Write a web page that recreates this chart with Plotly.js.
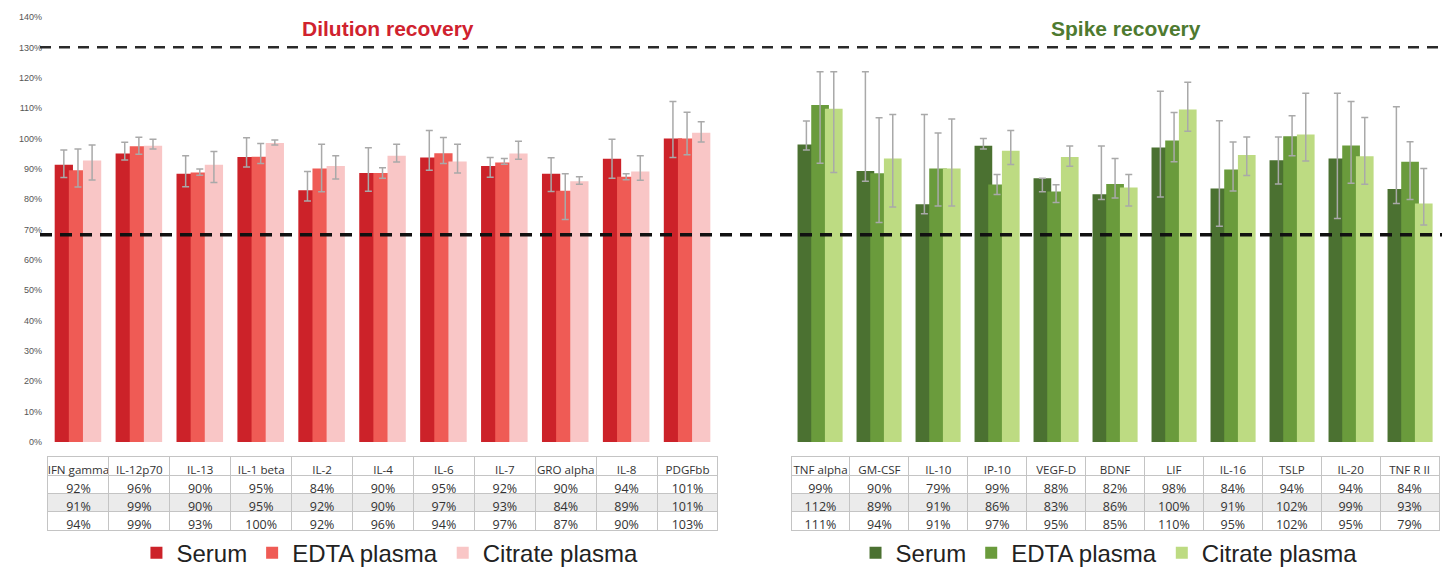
<!DOCTYPE html>
<html>
<head>
<meta charset="utf-8">
<script src="https://cdn.plot.ly/plotly-3.0.1.min.js"></script>
<style>
  html, body { margin: 0; padding: 0; background: #ffffff; }
  #chart { width: 1442px; height: 568px; }
</style>
</head>
<body>
<div id="chart"></div>
<script>
// ---------------- DATA ----------------
var seriesNames = ['Serum', 'EDTA plasma', 'Citrate plasma'];

// Dilution recovery
var dilCategories = ['IFN gamma', 'IL-12p70', 'IL-13', 'IL-1 beta', 'IL-2', 'IL-4', 'IL-6', 'IL-7', 'GRO alpha', 'IL-8', 'PDGFbb'];
var dilSerum   = [91.3, 95.0, 88.4, 93.9, 82.9, 88.6, 93.7, 90.9, 88.4, 93.3, 100.0];
var dilEdta    = [89.5, 97.4, 88.8, 94.0, 90.1, 88.6, 95.1, 92.1, 82.8, 87.4, 100.0];
var dilCitrate = [92.7, 97.6, 91.3, 98.5, 90.9, 94.3, 92.4, 95.0, 85.9, 89.1, 101.9];
var dilSerumHi   = [96.2, 98.7, 94.3, 100.2, 89.1, 96.9, 102.6, 93.7, 93.6, 99.7, 112.2];
var dilSerumLo   = [87.1, 92.9, 84.1, 90.6, 79.4, 82.6, 89.5, 87.2, 82.5, 86.9, 93.7];
var dilEdtaHi    = [96.5, 100.4, 89.9, 98.3, 98.1, 90.3, 100.3, 93.4, 88.4, 88.4, 108.6];
var dilEdtaLo    = [84.0, 94.8, 87.9, 91.7, 82.4, 86.9, 91.7, 91.5, 73.3, 86.4, 94.6];
var dilCitrateHi = [97.8, 99.7, 95.7, 99.5, 94.3, 98.1, 98.1, 99.1, 87.4, 94.3, 105.5];
var dilCitrateLo = [86.3, 96.5, 85.5, 97.8, 86.6, 92.2, 88.6, 93.1, 84.9, 86.2, 98.8];
var dilTabSerum   = [92, 96, 90, 95, 84, 90, 95, 92, 90, 94, 101];
var dilTabEdta    = [91, 99, 90, 95, 92, 90, 97, 93, 84, 89, 101];
var dilTabCitrate = [94, 99, 93, 100, 92, 96, 94, 97, 87, 90, 103];

// Spike recovery
var spkCategories = ['TNF alpha', 'GM-CSF', 'IL-10', 'IP-10', 'VEGF-D', 'BDNF', 'LIF', 'IL-16', 'TSLP', 'IL-20', 'TNF R II'];
var spkSerum   = [98.0, 89.3, 78.3, 97.6, 86.9, 81.6, 97.0, 83.5, 92.8, 93.4, 83.3];
var spkEdta    = [111.0, 88.5, 90.1, 84.8, 82.5, 85.0, 99.3, 89.8, 100.7, 97.7, 92.3];
var spkCitrate = [109.8, 93.4, 90.1, 95.9, 93.9, 83.8, 109.5, 94.5, 101.3, 94.1, 78.6];
var spkSerumHi   = [105.7, 122.0, 107.9, 100.0, 86.0, 97.5, 115.5, 105.8, 100.5, 114.9, 110.4];
var spkSerumLo   = [96.2, 85.9, 75.2, 96.5, 82.4, 79.9, 80.7, 71.1, 85.0, 73.6, 78.6];
var spkEdtaHi    = [122.0, 106.8, 101.8, 88.1, 84.7, 93.4, 108.5, 98.8, 107.5, 112.2, 98.9];
var spkEdtaLo    = [91.8, 72.3, 77.7, 81.5, 78.9, 80.4, 92.3, 82.7, 94.3, 85.2, 79.9];
var spkCitrateHi = [122.0, 107.9, 106.4, 102.6, 97.5, 88.1, 118.5, 100.5, 114.9, 106.9, 90.1];
var spkCitrateLo = [88.8, 77.4, 77.7, 91.4, 90.8, 77.7, 102.4, 87.8, 92.6, 84.9, 71.5];
var spkTabSerum   = [99, 90, 79, 99, 88, 82, 98, 84, 94, 94, 84];
var spkTabEdta    = [112, 89, 91, 86, 83, 86, 100, 91, 102, 99, 93];
var spkTabCitrate = [111, 94, 91, 97, 95, 85, 110, 95, 102, 95, 79];

var upperLimit = 130;
var lowerLimit = 68.3;

// ---------------- STYLE ----------------
var redColors   = ['#cc2229', '#ef5b55', '#f9c6c6'];
var greenColors = ['#4b7131', '#6a9b3c', '#bddb82'];
var barWidth = 0.3;
var barOffsets = [-0.39, -0.158, 0.074];
var errColor = '#a9a9a9';
var tableFont = '"Open Sans", "Liberation Sans", sans-serif';
var sans = '"Liberation Sans", Arial, Helvetica, sans-serif';

function barTrace(cats, vals, hi, lo, idx, colors, xaxis, legendName) {
  var plus = vals.map(function (v, i) { return Math.max(0, hi[i] - v); });
  var minus = vals.map(function (v, i) { return Math.max(0, v - lo[i]); });
  return {
    type: 'bar',
    name: seriesNames[idx],
    x: cats,
    y: vals,
    xaxis: xaxis,
    yaxis: 'y',
    width: barWidth,
    offset: barOffsets[idx],
    marker: { color: colors[idx], line: { width: 0 } },
    error_y: {
      type: 'data', symmetric: false, array: plus, arrayminus: minus,
      color: errColor, thickness: 1.5, width: 3.5
    },
    legend: legendName,
    hoverinfo: 'x+y+name'
  };
}

function noWrap(s) { return s.replace(/ /g, '\u00a0'); }

function tableTrace(cats, s, e, c, xdom) {
  var cols = cats.map(function (cat, i) { return [s[i] + '%', e[i] + '%', c[i] + '%']; });
  var fills = cats.map(function () { return ['#ffffff', '#ebebeb', '#ffffff']; });
  return {
    type: 'table',
    domain: { x: xdom, y: [0.0, 0.2015] },
    columnwidth: cats.map(function () { return 1; }),
    header: {
      values: cats.map(noWrap),
      align: 'center',
      height: 18.3,
      line: { color: '#c4c4c4', width: 1 },
      fill: { color: '#ffffff' },
      font: { family: tableFont, size: 11.6, color: '#333333', stretch: 'condensed' }
    },
    cells: {
      values: cols,
      align: 'center',
      height: 18.3,
      line: { color: '#c4c4c4', width: 1 },
      fill: { color: fills },
      font: { family: tableFont, size: 12.5, color: '#333333', stretch: 'condensed' }
    }
  };
}

var leftDom = [0.0057, 0.4836];
var rightDom = [0.5357, 0.9986];

var data = [];
var dilVals = [dilSerum, dilEdta, dilCitrate];
var dilHis = [dilSerumHi, dilEdtaHi, dilCitrateHi];
var dilLos = [dilSerumLo, dilEdtaLo, dilCitrateLo];
var spkVals = [spkSerum, spkEdta, spkCitrate];
var spkHis = [spkSerumHi, spkEdtaHi, spkCitrateHi];
var spkLos = [spkSerumLo, spkEdtaLo, spkCitrateLo];
for (var k = 0; k < 3; k++) {
  data.push(barTrace(dilCategories, dilVals[k], dilHis[k], dilLos[k], k, redColors, 'x', 'legend'));
}
for (var k2 = 0; k2 < 3; k2++) {
  data.push(barTrace(spkCategories, spkVals[k2], spkHis[k2], spkLos[k2], k2, greenColors, 'x2', 'legend2'));
}
data.push(tableTrace(dilCategories, dilTabSerum, dilTabEdta, dilTabCitrate, leftDom));
data.push(tableTrace(spkCategories, spkTabSerum, spkTabEdta, spkTabCitrate, rightDom));

var layout = {
  width: 1442,
  height: 568,
  margin: { l: 40, r: 0, t: 17, b: 0, autoexpand: false },
  paper_bgcolor: '#ffffff',
  plot_bgcolor: 'rgba(0,0,0,0)',
  barmode: 'overlay',
  font: { family: sans, color: '#333333' },
  xaxis: {
    domain: leftDom, anchor: 'y', type: 'category', range: [-0.5, 10.5],
    showticklabels: false, showgrid: false, zeroline: false, showline: false, ticks: ''
  },
  xaxis2: {
    domain: rightDom, anchor: 'y', type: 'category', range: [-0.5, 10.5],
    showticklabels: false, showgrid: false, zeroline: false, showline: false, ticks: ''
  },
  yaxis: {
    domain: [0.2287, 1.0], range: [0, 140], dtick: 10, tick0: 0,
    ticksuffix: '%', showgrid: false, zeroline: false, showline: false, ticks: '',
    tickfont: { family: sans, size: 9, color: '#555555' },
    ticklabelstandoff: 5, automargin: false, fixedrange: true
  },
  shapes: [
    { type: 'line', xref: 'paper', yref: 'y', x0: 0, x1: 1, y0: upperLimit, y1: upperLimit,
      line: { color: '#2a2a2a', width: 2.5, dash: '11px,8px' }, layer: 'above' },
    { type: 'line', xref: 'paper', yref: 'y', x0: 0, x1: 1, y0: lowerLimit, y1: lowerLimit,
      line: { color: '#111111', width: 3.5, dash: '12px,8px' }, layer: 'above' }
  ],
  annotations: [
    { text: 'Dilution recovery', xref: 'paper', yref: 'paper', x: 0.248, y: 0.98,
      xanchor: 'center', yanchor: 'middle', showarrow: false,
      font: { family: sans, size: 21, color: '#d0222e', weight: 'bold' } },
    { text: 'Spike recovery', xref: 'paper', yref: 'paper', x: 0.7746, y: 0.98,
      xanchor: 'center', yanchor: 'middle', showarrow: false,
      font: { family: sans, size: 21, color: '#4e7a30', weight: 'bold' } }
  ],
  legend: {
    orientation: 'h', x: 0.2496, xanchor: 'center', y: 0.027, yanchor: 'middle',
    font: { family: sans, size: 24, color: '#222222' }, bgcolor: 'rgba(0,0,0,0)',
    traceorder: 'normal'
  },
  legend2: {
    orientation: 'h', x: 0.7625, xanchor: 'center', y: 0.027, yanchor: 'middle',
    font: { family: sans, size: 24, color: '#222222' }, bgcolor: 'rgba(0,0,0,0)',
    traceorder: 'normal'
  },
  showlegend: true
};

Plotly.newPlot('chart', data, layout, { displayModeBar: false, staticPlot: true });
</script>
</body>
</html>
